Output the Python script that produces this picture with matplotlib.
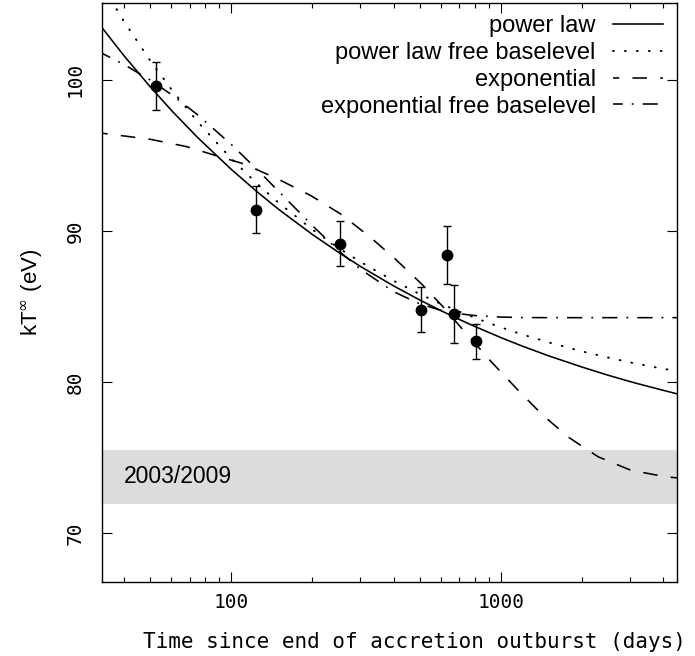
import numpy as np
import matplotlib.pyplot as plt
from matplotlib.ticker import FixedLocator, NullFormatter, FixedFormatter

plt.rcParams['lines.scale_dashes'] = False
plt.rcParams['mathtext.fontset'] = 'dejavusans'

# observed temperatures (days, eV)
t_obs = [52.5, 123, 253.6, 503.5, 630, 671, 807]
kt_obs = [99.6, 91.4, 89.15, 84.8, 88.4, 84.5, 82.7]
kt_err = [1.6, 1.55, 1.5, 1.5, 1.9, 1.9, 1.15]

# fitted curves
t_grid = [33, 40, 50, 60, 75, 100, 125, 150, 200, 250, 300, 400, 500, 600,
          700, 800, 1000, 1200, 1500, 2000, 2500, 3000, 3500, 4500]
kt_pow = [103.49, 101.59, 99.54, 97.97, 96.18, 94.07, 92.57, 91.42, 89.76,
          88.58, 87.67, 86.36, 85.43, 84.72, 84.15, 83.68, 82.94, 82.38,
          81.74, 80.99, 80.45, 80.04, 79.72, 79.22]
kt_pow_free = [106.32, 103.86, 101.27, 99.36, 97.22, 94.78, 93.10, 91.85,
               90.09, 88.87, 87.97, 86.70, 85.82, 85.17, 84.67, 84.25, 83.62,
               83.15, 82.63, 82.03, 81.62, 81.31, 81.07, 80.72]
kt_exp_free = [101.77, 101.01, 99.99, 99.02, 97.68, 95.72, 94.04, 92.61,
               90.35, 88.69, 87.49, 85.98, 85.17, 84.74, 84.52, 84.40, 84.30,
               84.27, 84.26, 84.26, 84.26, 84.26, 84.26, 84.26]
t_exp = [33, 49.8, 68.2, 87, 112, 151, 197, 254, 326, 404, 508, 612, 746,
         928, 1144, 1416, 1777, 2297, 3027, 4084, 4500]
kt_exp = [96.47, 96.07, 95.58, 95.0, 94.42, 93.38, 92.34, 91.13, 89.62,
          88.17, 86.49, 84.95, 83.18, 81.28, 79.56, 77.88, 76.36, 75.05,
          74.17, 73.73, 73.66]

# 2003/2009 temperature level
band = [71.9, 75.5]

xticks_major = [100, 1000]
xticks_minor = [40, 50, 60, 70, 80, 90, 200, 300, 400, 500, 600, 700, 800,
                900, 2000, 3000, 4000]
yticks = [70, 80, 90, 100]

W, H = 695, 656
fig = plt.figure(figsize=(W / 100, H / 100), dpi=100)
ax = fig.add_axes([101.5 / W, 1 - 582.3 / H, 575.5 / W, 579.6 / H])

ax.axhspan(band[0], band[1], color='#dcdcdc', lw=0, zorder=0)
ax.text(40, 73.75, '2003/2009', ha='left', va='center', fontsize=16.5,
        family='Liberation Sans')

lw = 1.15
ax.plot(t_grid, kt_pow, 'k-', lw=lw, label='power law')
ax.plot(t_grid, kt_pow_free, color='k', lw=1.4, ls=(0, (0.6, 8.0)),
        dash_capstyle='round', label='power law free baselevel')
ax.plot(t_exp, kt_exp, color='k', lw=lw, ls=(6, (10.5, 9.5)),
        label='exponential')
ax.plot(t_grid, kt_exp_free, color='k', lw=lw, ls=(4, (11, 6.5, 1.3, 6.5)),
        label='exponential free baselevel')

ax.errorbar(t_obs, kt_obs, yerr=kt_err, fmt='o', color='k', ms=7.5,
            capsize=3, elinewidth=1, capthick=1, zorder=5)

ax.set_xscale('log')
ax.set_xlim(33, 4500)
ax.set_ylim(66.75, 105.1)
ax.xaxis.set_major_locator(FixedLocator(xticks_major))
ax.xaxis.set_major_formatter(FixedFormatter([str(v) for v in xticks_major]))
ax.xaxis.set_minor_locator(FixedLocator(xticks_minor))
ax.xaxis.set_minor_formatter(NullFormatter())
ax.yaxis.set_major_locator(FixedLocator(yticks))
ax.yaxis.set_minor_locator(FixedLocator([]))

ax.tick_params(which='both', direction='in', top=True, right=True, width=0.8,
               color='k')
ax.tick_params(which='major', length=7.5)
ax.tick_params(which='minor', length=3.8)
ax.tick_params(axis='x', pad=8)
ax.tick_params(axis='y', pad=12, labelrotation=90)
for lab in ax.get_xticklabels() + ax.get_yticklabels():
    lab.set_family('DejaVu Sans Mono')
    lab.set_fontsize(14)
for lab in ax.get_yticklabels():
    lab.set_va('center')
for sp in ax.spines.values():
    sp.set_linewidth(1.0)

fig.text(414 / W, 1 - 642 / H, 'Time since end of accretion outburst (days)',
         ha='center', va='center', fontsize=15, family='DejaVu Sans Mono')
fig.text(32 / W, 1 - 292 / H, r'kT$^{\infty}$ (eV)', rotation=90,
         ha='center', va='center', fontsize=16, family='Liberation Sans')

leg = ax.legend(loc='upper right', bbox_to_anchor=(0.9757, 0.978),
                frameon=False, markerfirst=False,
                prop={'family': 'Liberation Sans', 'size': 17},
                handlelength=2.1, handletextpad=0.75, labelspacing=0.2,
                borderpad=0, borderaxespad=0)

fig.savefig('out.png', dpi=100)
